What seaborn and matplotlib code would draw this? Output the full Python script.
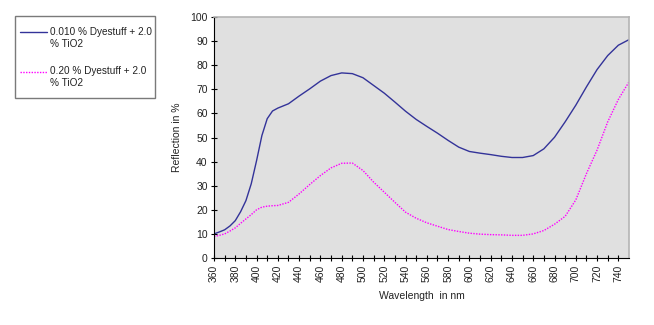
import numpy as np
import pandas as pd
import matplotlib
matplotlib.use("Agg")
import matplotlib.pyplot as plt
from matplotlib.lines import Line2D
from matplotlib.patches import Rectangle
import seaborn as sns

# Reflectance spectra (wavelength in nm, reflection in %)
wavelength = [360, 365, 370, 375, 380, 385, 390, 395, 400, 405, 410, 415, 420,
              430, 440, 450, 460, 470, 480, 490, 500, 510, 520, 530, 540, 550,
              560, 570, 580, 590, 600, 610, 620, 630, 640, 650, 660, 670, 680,
              690, 700, 710, 720, 730, 740, 750]
refl_low = [10.0, 10.8, 11.7, 13.3, 15.5, 19.2, 23.8, 30.8, 40.4, 50.8, 57.8, 61.0, 62.2,
            64.0, 67.2, 70.2, 73.4, 75.7, 76.8, 76.5, 74.8, 71.6, 68.4, 64.7, 60.9, 57.5,
            54.6, 51.8, 48.8, 46.0, 44.2, 43.5, 42.9, 42.2, 41.7, 41.7, 42.5, 45.3, 50.1,
            56.5, 63.4, 71.0, 78.2, 84.0, 88.3, 90.6]
refl_high = [8.9, 9.4, 10.0, 11.2, 12.5, 14.4, 16.2, 18.0, 20.0, 21.1, 21.5, 21.7, 21.8,
             23.1, 26.6, 30.5, 34.2, 37.4, 39.3, 39.4, 36.3, 31.5, 27.3, 23.1, 19.0, 16.5,
             14.6, 13.2, 11.8, 11.0, 10.3, 9.9, 9.7, 9.6, 9.4, 9.4, 10.0, 11.4, 14.0,
             17.3, 24.1, 35.0, 44.8, 56.5, 65.8, 73.1]
label_low = "0.010 % Dyestuff + 2.0\n% TiO2"
label_high = "0.20 % Dyestuff + 2.0\n% TiO2"

df = pd.DataFrame({
    "Wavelength": wavelength * 2,
    "Reflection": refl_low + refl_high,
    "Sample": [label_low] * len(wavelength) + [label_high] * len(wavelength),
})

sns.set_style("white")
plt.rcParams["font.family"] = ["Liberation Sans", "DejaVu Sans"]

W, H = 654, 325
fig = plt.figure(figsize=(W / 100, H / 100), dpi=100)
ax = fig.add_axes([214 / W, 1 - 258 / H, 415 / W, 241 / H])
ax.set_facecolor("#e0e0e0")

colors = {label_low: "#333399", label_high: "#ff00ff"}
sns.lineplot(data=df, x="Wavelength", y="Reflection", hue="Sample",
             style="Sample", dashes={label_low: "", label_high: (1, 1)},
             palette=colors, linewidth=1.0, ax=ax, legend=False)

ax.set_xlim(360, 750)
ax.set_ylim(0, 100)
xt = np.arange(360, 750, 10)
ax.set_xticks(xt)
ax.set_xticklabels([str(v) if v % 20 == 0 else "" for v in xt],
                   rotation=90, fontsize=7.5)
ax.set_yticks(np.arange(0, 101, 10))
ax.tick_params(axis="y", labelsize=7.5)
ax.tick_params(direction="inout", length=5, width=0.8, color="#000000",
               left=True, bottom=True, pad=2, labelcolor="#222222")

for side in ("left", "bottom"):
    ax.spines[side].set_color("#000000")
    ax.spines[side].set_linewidth(0.8)
for side in ("top", "right"):
    ax.spines[side].set_color("#b4b4b4")
    ax.spines[side].set_linewidth(1.2)

ax.set_xlabel("Wavelength  in nm", fontsize=7.5, labelpad=7, color="#222222")
ax.set_ylabel("Reflection in %", fontsize=7.5, labelpad=6, color="#222222")

# Legend box at the top left of the figure
def fx(px):
    return px / W

def fy(py):
    return 1 - py / H

fig.patches.append(Rectangle((fx(15), fy(98)), fx(155) - fx(15), fy(15.7) - fy(98),
                             transform=fig.transFigure, facecolor="white",
                             edgecolor="#7a7a7a", linewidth=1.0))
entries = [
    (label_low, colors[label_low], "-", 31.7, 37.8),
    (label_high, colors[label_high], (0, (1, 1)), 71.7, 77.0),
]
for text, col, ls, y_line, y_text in entries:
    fig.add_artist(Line2D([fx(20), fx(47)], [fy(y_line), fy(y_line)],
                          transform=fig.transFigure, color=col,
                          linewidth=1.0, linestyle=ls))
    fig.text(fx(49.5), fy(y_text), text, fontsize=7.2, va="center", ha="left",
             linespacing=1.25, color="#222222")

fig.savefig("out.png", dpi=100)
